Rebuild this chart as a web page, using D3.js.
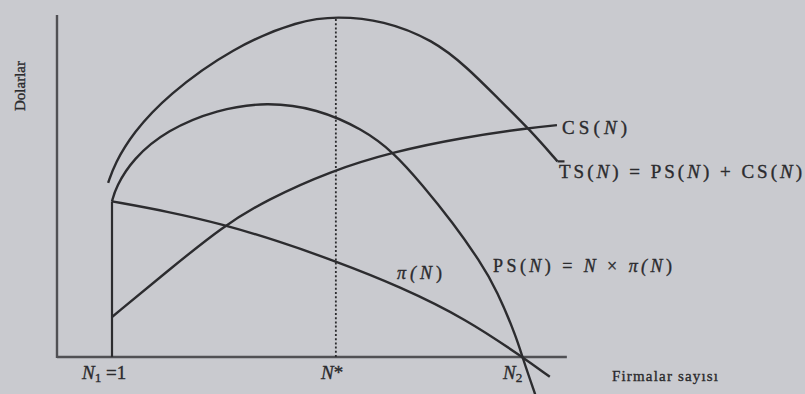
<!DOCTYPE html>
<html>
<head>
<meta charset="utf-8">
<script src="https://cdn.jsdelivr.net/npm/d3@7"></script>
<style>
  body { margin: 0; background: #c9cacf; }
  text { font-family: "Liberation Serif", "DejaVu Serif", serif; fill: #2b2b2e; stroke: #2b2b2e; stroke-width: 0.35px; }
</style>
</head>
<body>
<div id="my_dataviz"></div>
<script>
// number of firms at the marked points
var nOne = 1, nStar = 5.07, nTwo = 8.46, nAxisEnd = 9.27

// curves: [N, value]
var tsCurve = [[0.93,50.9],[1.05,56.5],[1.38,65.5],[2.0,76.5],[3.2,90.6],[4.42,98.5],[5.09,99.6],
               [5.93,98.5],[6.84,92.7],[7.45,84.8],[8.05,75.1],[8.6,66.4],[9.1,57.2]]
var psCurve = [[1.0,45.5],[1.07,49.7],[1.38,58.0],[2.0,66.4],[2.91,72.4],[3.82,74.6],[4.73,72.6],
               [5.56,66.6],[6.11,60.0],[6.65,50.2],[7.2,39.2],[7.69,28.0],[8.0,19.5],[8.36,5.5],
               [8.46,0],[8.7,-11.2]]
var csCurve = [[1.0,11.7],[2.0,25.0],[3.02,38.3],[3.82,46.0],[4.96,54.3],[6.11,60.0],[7.38,64.2],
               [8.6,67.0],[9.09,67.8]]
var piCurve = [[1.0,45.5],[2.0,42.6],[3.02,38.8],[4.0,34.0],[5.02,28.3],[6.24,20.6],[7.45,11.0],[8.46,0],[8.96,-5.8]]

// set the dimensions of the graph
var width = 805, height = 394

var svg = d3.select("#my_dataviz")
  .append("svg")
    .attr("width", width)
    .attr("height", height)

var x = d3.scaleLinear().domain([0, 10]).range([57, 607])
var y = d3.scaleLinear().domain([0, 100]).range([357, 15])

var ink = "#2c2c2f"

// axes
svg.append("line")
  .attr("x1", x(0)).attr("x2", x(0)).attr("y1", y(0) + 1).attr("y2", y(100))
  .style("stroke", "#505054").style("stroke-width", 2.4)
svg.append("line")
  .attr("x1", x(0)).attr("x2", x(nAxisEnd)).attr("y1", y(0)).attr("y2", y(0))
  .style("stroke", "#505054").style("stroke-width", 2.4)

// N1 vertical and N* dotted line
svg.append("line")
  .attr("x1", x(nOne)).attr("x2", x(nOne)).attr("y1", y(0)).attr("y2", y(psCurve[0][1]))
  .style("stroke", ink).style("stroke-width", 2.2)
svg.append("line")
  .attr("x1", x(nStar)).attr("x2", x(nStar)).attr("y1", y(0)).attr("y2", y(99.3))
  .style("stroke", ink).style("stroke-width", 1.8).style("stroke-dasharray", "2,2.2")

var line = d3.line()
  .x(function(d) { return x(d[0]) })
  .y(function(d) { return y(d[1]) })
  .curve(d3.curveBasis)

;[tsCurve, psCurve, csCurve, piCurve].forEach(function(c) {
  svg.append("path")
    .attr("d", line(c))
    .style("fill", "none")
    .style("stroke", ink)
    .style("stroke-width", 2.4)
})

// little leader from TS to its label
var tsEnd = tsCurve[tsCurve.length - 1]
svg.append("line")
  .attr("x1", x(tsEnd[0])).attr("y1", y(tsEnd[1]))
  .attr("x2", x(tsEnd[0]) + 7).attr("y2", y(tsEnd[1]))
  .style("stroke", ink).style("stroke-width", 2.2)

// text with italic pieces, parts = [[string, italic, sub]]
function label(px, py, size, parts, len) {
  var t = svg.append("text")
    .attr("x", px).attr("y", py)
    .style("font-size", size + "px")
  parts.forEach(function(p) {
    var s = t.append("tspan").text(p[0])
    if (p[1]) s.style("font-style", "italic")
    if (p[2]) s.attr("dy", 3).style("font-size", (size * 0.7) + "px")
    if (p[3]) s.attr("dy", -3)
  })
  if (len) t.attr("textLength", len).attr("lengthAdjust", "spacing")
  return t
}

label(562, 134, 19, [["CS("], ["N", 1], [")"]], 65)
label(559, 178, 19, [["TS("], ["N", 1], [") = PS("], ["N", 1], [") + CS("], ["N", 1], [")"]], 243)
label(493, 272, 18, [["PS("], ["N", 1], [") = "], ["N", 1], [" × "], ["π(", 1], ["N", 1], [")"]], 179)
label(397, 279, 18, [["π(", 1], ["N", 1], [")"]], 45)

label(82, 379, 19, [["N", 1], ["1", 0, 1], [" =1", 0, 0, 1]])
label(321, 379, 19, [["N", 1], ["*"]])
label(503, 379, 19, [["N", 1], ["2", 0, 1]])
label(612, 381, 15, [["Firmalar sayısı"]], 106)

svg.append("text")
  .attr("transform", "translate(25,86) rotate(-90)")
  .style("text-anchor", "middle")
  .style("font-size", "15px")
  .text("Dolarlar")
</script>
</body>
</html>
